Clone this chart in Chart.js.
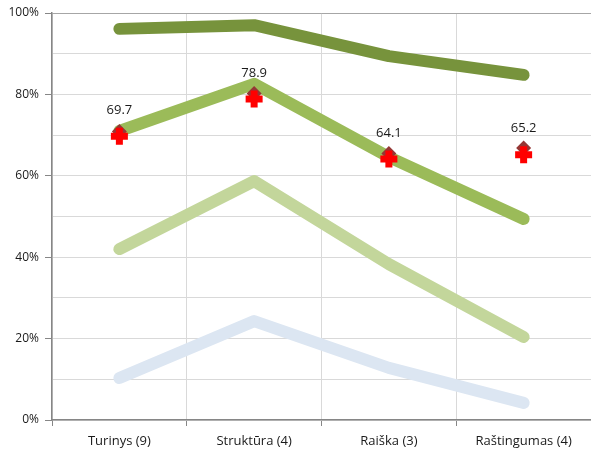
<!DOCTYPE html>
<html>
<head>
<meta charset="utf-8">
<script src="https://cdn.jsdelivr.net/npm/chart.js@4"></script>
<style>
  html, body { margin: 0; padding: 0; background: #fff; }
  #wrap { width: 591px; height: 450px; }
</style>
</head>
<body>
<div id="wrap"><canvas id="myChart"></canvas></div>
<script>
var categories = ['Turinys (9)', 'Struktūra (4)', 'Raiška (3)', 'Raštingumas (4)'];
var scores = [69.7, 78.9, 64.1, 65.2];
var scoreMarks = [70.9, 80.2, 65.5, 66.8];
var bandTop = [96.1, 97.0, 89.4, 84.8];
var bandUpper = [71.0, 82.6, 64.6, 49.4];
var bandLower = [42.0, 58.7, 38.3, 20.4];
var bandBottom = [10.3, 24.3, 12.8, 4.2];

var ctx = document.getElementById('myChart').getContext('2d');

function band(data, color, order) {
    return {
        type: 'line',
        data: data,
        borderColor: color,
        backgroundColor: color,
        borderWidth: 12,
        borderCapStyle: 'round',
        borderJoinStyle: 'round',
        pointRadius: 0,
        tension: 0,
        order: order
    };
}

// values written above the red crosses
var scoreLabels = {
    id: 'scoreLabels',
    afterDatasetsDraw: function(chart) {
        var meta = chart.getDatasetMeta(0);
        var c = chart.ctx;
        c.save();
        c.font = '13px "Open Sans", sans-serif';
        c.fillStyle = '#1a1a1a';
        c.textAlign = 'center';
        c.textBaseline = 'middle';
        meta.data.forEach(function(pt, i) {
            c.fillText(scores[i].toFixed(1), pt.x, pt.y - 26);
        });
        c.restore();
    }
};

var myChart = new Chart(ctx, {
    type: 'line',
    data: {
        labels: categories,
        datasets: [
            {
                data: scores,
                showLine: false,
                pointStyle: 'cross',
                pointRadius: 8.5,
                pointBorderWidth: 7,
                pointBorderColor: '#ff0000',
                pointBackgroundColor: '#ff0000',
                order: 0
            },
            {
                data: scoreMarks,
                showLine: false,
                pointStyle: 'rectRot',
                pointRadius: 7.5,
                pointBorderWidth: 0,
                pointBackgroundColor: '#953735',
                pointBorderColor: '#953735',
                order: 1
            },
            band(bandTop, '#77933c', 2),
            band(bandUpper, '#9bbb59', 3),
            band(bandLower, '#c3d69b', 4),
            band(bandBottom, '#dce6f2', 5)
        ]
    },
    options: {
        responsive: true,
        maintainAspectRatio: false,
        animation: false,
        layout: {
            autoPadding: false,
            padding: { left: 8, right: -3, top: 13, bottom: 1 }
        },
        plugins: {
            legend: { display: false },
            tooltip: { enabled: false }
        },
        scales: {
            x: {
                offset: true,
                afterFit: function(scale) {
                    scale.paddingRight = 0;
                    scale.paddingLeft = 0;
                    scale.height = 29;
                },
                grid: {
                    offset: true,
                    color: function(c) {
                        return c.tick ? '#d9d9d9' : 'rgba(0,0,0,0)';
                    },
                    tickColor: function(c) {
                        return c.tick ? '#868686' : 'rgba(0,0,0,0)';
                    },
                    tickLength: 6
                },
                border: { color: '#868686', width: 1.5 },
                ticks: {
                    color: '#1a1a1a',
                    font: { family: '"Open Sans", sans-serif', size: 13 },
                    padding: 7,
                    maxRotation: 0
                }
            },
            y: {
                min: 0,
                max: 100,
                afterFit: function(scale) {
                    scale.width = 44;
                    scale.paddingTop = 0;
                },
                grid: {
                    color: function(c) {
                        return c.tick && c.tick.value === 100 ? '#a6a6a6' : '#d9d9d9';
                    },
                    tickLength: 7,
                    tickColor: function(c) {
                        return c.tick && c.tick.value % 20 === 0 ? '#868686' : 'rgba(0,0,0,0)';
                    }
                },
                border: { color: '#868686', width: 1.5 },
                ticks: {
                    stepSize: 10,
                    color: '#1a1a1a',
                    font: { family: '"Open Sans", sans-serif', size: 12 },
                    padding: 6,
                    callback: function(v) {
                        return v % 20 === 0 ? v + '%' : '';
                    }
                }
            }
        }
    },
    plugins: [scoreLabels]
});
</script>
</body>
</html>
